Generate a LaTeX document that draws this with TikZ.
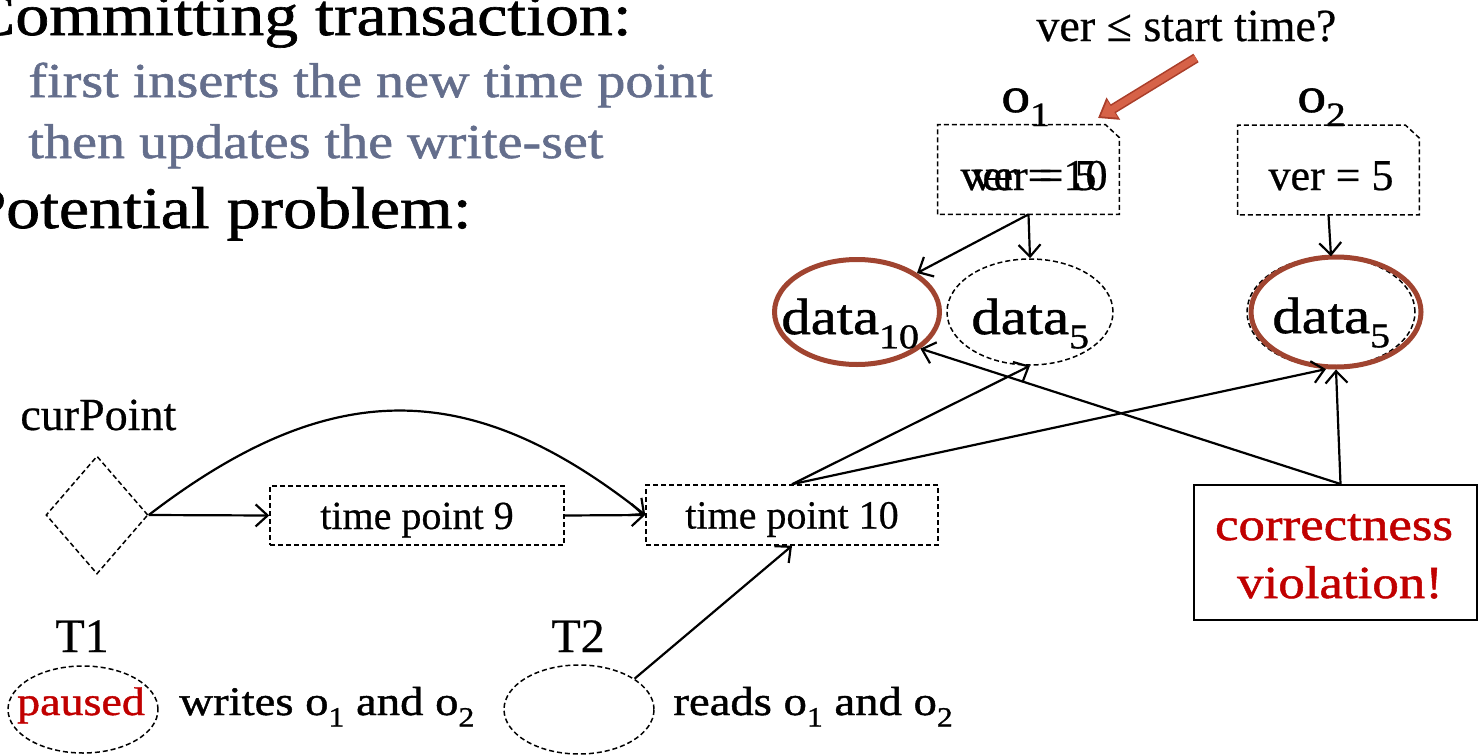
\documentclass[tikz,border=0pt]{standalone}
\usepackage{fontspec}
\setmainfont{Liberation Serif}[FakeBold=0.5]
\newfontfamily\cfont[FakeStretch=1.15,FakeBold=1.1]{Liberation Serif}
\usetikzlibrary{arrows.meta,shapes.geometric}

\definecolor{subgray}{RGB}{100,110,140}
\definecolor{alarm}{RGB}{192,0,0}
\definecolor{rust}{RGB}{160,68,48}
\definecolor{salmon}{RGB}{214,98,72}
\definecolor{salmonedge}{RGB}{170,62,42}

% lowered, reduced index (o_1, data_10, ...)
\newcommand\sbs[1]{\raisebox{-0.28em}{\scalebox{0.68}{#1}}}
\newcommand\fsz[1]{\fontsize{#1}{#1}\selectfont}

\tikzset{
  txt/.style={inner sep=0pt},
  dbox/.style={draw, line width=0.75pt, dash pattern=on 2.5pt off 1.5pt, inner sep=0pt},
  arr/.style={line width=1.1pt, -{Straight Barb[length=6pt,width=11pt]}},
  verbox/.style={inner sep=0pt, minimum width=90.5pt, minimum height=44.5pt},
}

\begin{document}
\begin{tikzpicture}[x=0.5pt,y=-0.5pt]
\useasboundingbox (0,0) rectangle (1478,755);
\clip (0,0) rectangle (1478,755);

% ---- headline text
\node[txt, anchor=base east, font=\cfont\fsz{29.5}] (head1) at (632,35) {Committing transaction:};
\node[txt, anchor=base west, font=\cfont\fsz{24.4}, text=subgray] (sub1) at (28,97) {first inserts the new time point};
\node[txt, anchor=base west, font=\cfont\fsz{24.4}, text=subgray] (sub2) at (28,158) {then updates the write-set};
\node[txt, anchor=base east, font=\cfont\fsz{29.5}] (head2) at (472,228) {Potential problem:};

% ---- version check hint
\node[txt, anchor=base west, font=\fsz{23}] (q) at (1036,41) {ver ≤ start time?};
\coordinate (qtail) at (1196,58);
\coordinate (qtip) at (1098,118);
\draw[salmonedge, line width=5pt, -{Triangle[length=9pt,width=12.5pt]}] (qtail) -- (qtip);
\draw[salmon, line width=3.4pt, shorten >=1.5pt, -{Triangle[length=7pt,width=9.5pt]}] (qtail) -- (qtip);

% ---- objects o1 and o2
\node[txt, anchor=base west, font=\cfont\fsz{25}] (o1l) at (1001,112) {o\sbs{1}};
\node[txt, anchor=base west, font=\cfont\fsz{25}] (o2l) at (1297,112) {o\sbs{2}};

\node[verbox] (o1) at (1028.5,169.5) {};
\node[verbox] (o2) at (1328.5,170) {};
\foreach \b in {o1,o2}
  \draw[dbox] (\b.south west) -- (\b.north west) -- ([xshift=-7pt]\b.north east)
    -- ([yshift=-6.5pt]\b.north east) -- (\b.south east) -- cycle;

\node[txt, anchor=base, font=\fsz{22}] (v10) at (1034,190) {ver = 10};
\node[txt, anchor=base, font=\fsz{22}] (v5a) at (1034,190) {ver = 5};
\node[txt, anchor=base, font=\fsz{22}] (v5b) at (1331,190) {ver = 5};

% ---- data versions
\node[ellipse, draw=rust, line width=2.5pt, inner sep=0pt, minimum width=82.5pt, minimum height=52.5pt] (d10) at (857,312) {};
\node[ellipse, dbox, minimum width=83pt, minimum height=53pt] (d5a) at (1030,312) {};
\node[ellipse, dbox, minimum width=84pt, minimum height=55pt] (d5b) at (1331,312) {};
\node[ellipse, draw=rust, line width=2.5pt, inner sep=0pt, minimum width=85pt, minimum height=55pt] (d5r) at (1336,312) {};

\node[txt, anchor=base west, font=\cfont\fsz{25.5}] (d10t) at (781,334) {data\sbs{10}};
\node[txt, anchor=base west, font=\cfont\fsz{25.5}] (d5at) at (971,334) {data\sbs{5}};
\node[txt, anchor=base west, font=\cfont\fsz{25.5}] (d5bt) at (1272,333) {data\sbs{5}};

\draw[arr] (o1.south) -- (d10.33);
\draw[arr] (o1.south) -- (d5a.north);
\draw[arr] (o2.south) -- (d5b.north);

% ---- time point list
\node[txt, anchor=base west, font=\fsz{23}] (cpl) at (20,430) {curPoint};
\node[diamond, dbox, minimum width=51pt, minimum height=59pt] (cp) at (97,515) {};
\node[dbox, minimum width=147pt, minimum height=29.5pt, font=\fsz{20}, text height=13.5pt, text depth=0pt] (tp9) at (417,515.5) {time point 9};
\node[dbox, minimum width=146pt, minimum height=30pt, font=\fsz{20}, text height=13.5pt, text depth=0pt] (tp10) at (792,515) {time point 10};

\draw[arr] (cp.east) -- (tp9.west);
\draw[arr] (tp9.east) -- (tp10.west);
\draw[arr] (cp.east) .. controls (330,376) and (470,376) .. (tp10.west);

\draw[arr] (tp10.north) -- (d5a.south);
\draw[arr] (tp10.north) -- (d5r.-100);

% ---- violation notice
\node[draw, line width=1pt, inner sep=0pt, minimum width=141.5pt, minimum height=67.5pt] (cv) at (1335.5,552.5) {};
\node[txt, anchor=base, font=\cfont\fsz{23}, text=alarm] (cv1) at (1334,540) {correctness};
\node[txt, anchor=base, font=\cfont\fsz{23}, text=alarm] (cv2) at (1340,598) {violation!};

\draw[arr] ([xshift=2.5pt]cv.north) -- (d5r.south);
\draw[arr] ([xshift=2.5pt]cv.north) -- (d10.-30);

% ---- transactions
\node[txt, anchor=base west, font=\fsz{24}] (t1l) at (55,652) {T1};
\node[ellipse, dbox, minimum width=75pt, minimum height=43.5pt] (t1e) at (83,709.5) {};
\node[txt, anchor=base, font=\cfont\fsz{20}, text=alarm] (t1p) at (81,715) {paused};
\node[txt, anchor=base west, font=\cfont\fsz{20.3}] (t1w) at (179,715) {writes o\sbs{1} and o\sbs{2}};

\node[txt, anchor=base west, font=\fsz{24}] (t2l) at (551,652) {T2};
\node[ellipse, dbox, minimum width=75pt, minimum height=44.5pt] (t2e) at (579,709.5) {};
\node[txt, anchor=base west, font=\cfont\fsz{20.3}] (t2r) at (673,715) {reads o\sbs{1} and o\sbs{2}};

\draw[arr] (t2e.29) -- (tp10.south);
\end{tikzpicture}
\end{document}
